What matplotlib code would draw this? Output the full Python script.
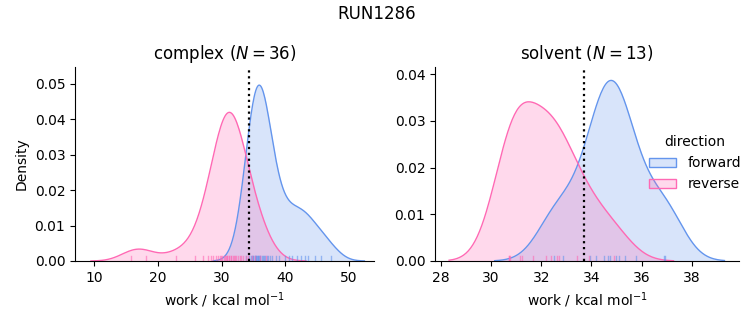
import numpy as np
import matplotlib
matplotlib.use("Agg")
import matplotlib.pyplot as plt
from matplotlib.patches import Patch

# ---- data (work values, kcal/mol) ----
complex_forward = [33.85, 34.25, 34.55,
                   34.75, 34.85, 34.95, 35.15, 35.25, 35.35, 35.45, 35.55, 35.65, 35.75,
                   35.85, 35.95, 36.05, 36.25, 36.45, 36.65, 36.85, 37.05, 37.25,
                   37.55, 37.95, 38.45, 38.95,
                   39.9, 40.5, 41.1, 41.8, 42.5, 43.0, 43.6, 44.6, 45.6, 47.2]
complex_reverse = [15.8, 18.1, 22.9, 25.8, 27.0,
                   27.8, 28.3, 28.7, 29.1, 29.4, 29.7, 29.9, 30.1, 30.3, 30.5, 30.7,
                   30.8, 30.9, 31.1, 31.2, 31.4, 31.5, 31.7, 31.9, 32.1, 32.3, 32.5,
                   32.8, 33.1, 33.4, 33.8, 34.2, 34.7, 35.3, 36.0, 36.9]
solvent_forward = [32.5, 32.85, 33.95, 34.2, 34.5, 34.67, 34.75, 34.99, 35.1, 35.35,
                   35.8, 36.89, 36.95]
solvent_reverse = [30.70, 30.72, 30.76, 31.14, 31.23, 31.67, 32.2, 32.40, 32.63, 32.70,
                   33.43, 33.90, 34.9]
complex_estimate = 34.35
solvent_estimate = 33.69

phases = ["complex", "solvent"]
directions = ["forward", "reverse"]
colors = {"forward": "#6495ED", "reverse": "#FF69B4"}
data = {
    "complex": {"forward": complex_forward, "reverse": complex_reverse},
    "solvent": {"forward": solvent_forward, "reverse": solvent_reverse},
}
estimates = {"complex": complex_estimate, "solvent": solvent_estimate}
titles = {"complex": r"complex ($N = 36$)", "solvent": r"solvent ($N = 13$)"}
xlims = {"complex": (6.97, 53.9), "solvent": (27.76, 39.89)}
ylims = {"complex": (0, 0.0548), "solvent": (0, 0.0415)}
xticks = {"complex": [10, 20, 30, 40, 50], "solvent": [28, 30, 32, 34, 36, 38]}
yticks = {"complex": [0, 0.01, 0.02, 0.03, 0.04, 0.05], "solvent": [0, 0.01, 0.02, 0.03, 0.04]}

n_total = sum(len(v) for p in data.values() for v in p.values())


def kde(values, weight):
    x = np.asarray(values, float)
    n = len(x)
    bw = x.std(ddof=1) * n ** (-1 / 5)
    grid = np.linspace(x.min() - 3 * bw, x.max() + 3 * bw, 200)
    dens = np.exp(-0.5 * ((grid[:, None] - x[None, :]) / bw) ** 2).sum(1) / (n * bw * np.sqrt(2 * np.pi))
    return grid, dens * weight


fig = plt.figure(figsize=(7.53, 3.25), dpi=100)
W, H = 753, 325
boxes = {"complex": (75, 67, 374, 261), "solvent": (435, 67, 739, 261)}

for phase in phases:
    x0, y0, x1, y1 = boxes[phase]
    ax = fig.add_axes([x0 / W, 1 - y1 / H, (x1 - x0) / W, (y1 - y0) / H])
    for d in directions:
        vals = data[phase][d]
        g, dens = kde(vals, len(vals) / n_total)
        ax.fill_between(g, dens, color=colors[d], alpha=0.25, linewidth=0)
        ax.plot(g, dens, color=colors[d], lw=1)
    for d in directions:
        vals = data[phase][d]
        for v in vals:
            ax.plot([v, v], [0, 0.025], transform=ax.get_xaxis_transform(),
                    color=colors[d], lw=1, alpha=0.6)
    ax.axvline(estimates[phase], color="black", ls=":", lw=1.6)
    ax.set_xlim(*xlims[phase])
    ax.set_ylim(*ylims[phase])
    ax.set_xticks(xticks[phase])
    ax.set_yticks(yticks[phase])
    ax.yaxis.set_major_formatter(matplotlib.ticker.FormatStrFormatter("%.2f"))
    ax.spines["top"].set_visible(False)
    ax.spines["right"].set_visible(False)
    ax.set_title(titles[phase], fontsize=12)
    ax.set_xlabel(r"work / kcal mol$^{-1}$")
    if phase == "complex":
        ax.set_ylabel("Density")

fig.suptitle("RUN1286", fontsize=12, y=0.985)

handles = [Patch(facecolor=matplotlib.colors.to_rgba(colors[d], 0.25),
                 edgecolor=colors[d], linewidth=1, label=d) for d in directions]
fig.legend(handles=handles, title="direction", frameon=False, loc="upper left",
           bbox_to_anchor=(636 / W, 1 - 123 / H), fontsize=10, title_fontsize=10)

fig.savefig("out.png", dpi=100)
